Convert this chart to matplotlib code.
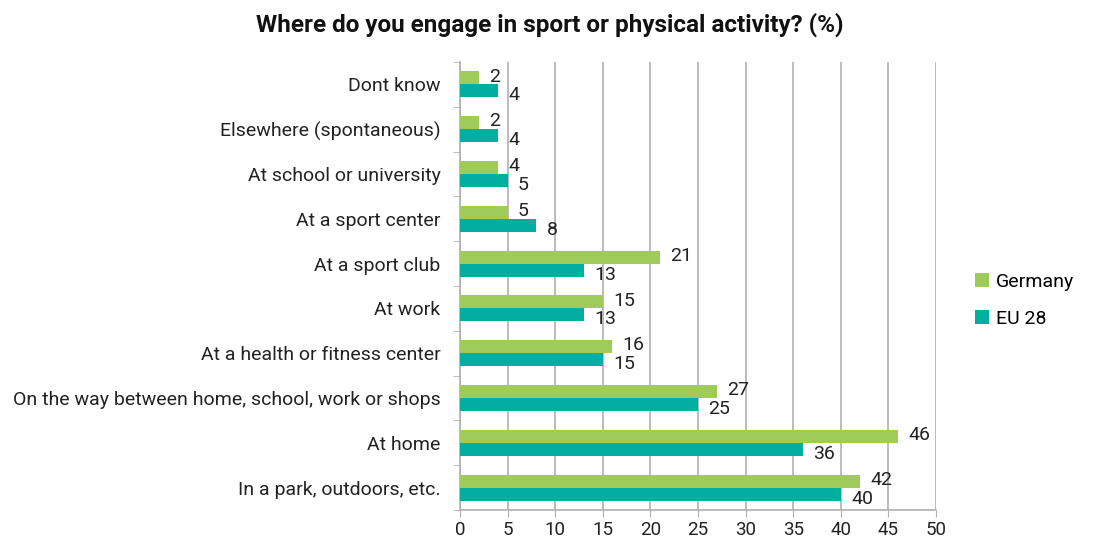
import numpy as np
import matplotlib.pyplot as plt

plt.rcParams['font.family'] = ['Roboto', 'DejaVu Sans']

categories = ["Dont know", "Elsewhere (spontaneous)", "At school or university",
              "At a sport center", "At a sport club", "At work",
              "At a health or fitness center",
              "On the way between home, school, work or shops",
              "At home", "In a park, outdoors, etc."]
germany = [2, 2, 4, 5, 21, 15, 16, 27, 46, 42]
eu28 = [4, 4, 5, 8, 13, 13, 15, 25, 36, 40]

green = '#9FCB59'
teal = '#00AFA0'
grey = '#B0B0B0'

fig = plt.figure(figsize=(10.96, 5.43), dpi=100)
ax = fig.add_axes([0.4197, 0.0608, 0.4343, 0.8250])

y = np.arange(len(categories))
h = 0.29
ax.barh(y - h / 2, germany, height=h, color=green, label='Germany', zorder=3)
ax.barh(y + h / 2, eu28, height=h, color=teal, label='EU 28', zorder=3)

for yi, g, e in zip(y, germany, eu28):
    ax.text(g + 1.1, yi - h * 0.6, str(g), fontsize=14, va='center', ha='left', color='#222222')
    ax.text(e + 1.1, yi + h * 0.85, str(e), fontsize=14, va='center', ha='left', color='#222222')

ax.set_ylim(len(categories) - 0.5, -0.5)
ax.set_xlim(0, 50)
ax.set_xticks(np.arange(0, 51, 5))
ax.set_yticks(y)
ax.set_yticklabels(categories, fontsize=14, color='#222222')
ax.tick_params(axis='y', length=0, pad=14)
ax.set_yticks(np.arange(-0.5, len(categories), 1), minor=True)
ax.tick_params(axis='y', which='minor', length=5, color=grey)
ax.tick_params(axis='x', length=5, color=grey, labelsize=13.5, labelcolor='#222222', pad=3)

ax.grid(axis='x', color=grey, linewidth=1.2, zorder=0)
for s in ['top', 'right']:
    ax.spines[s].set_visible(False)
for s in ['left', 'bottom']:
    ax.spines[s].set_color(grey)
    ax.spines[s].set_linewidth(1.2)

fig.text(0.502, 0.955, 'Where do you engage in sport or physical activity? (%)',
         ha='center', va='center', fontsize=17.5, fontweight='bold', color='#111111')

fig.legend(loc='center left', bbox_to_anchor=(0.874, 0.447), frameon=False,
           fontsize=14, handlelength=0.7, handleheight=0.7, labelspacing=0.95,
           handletextpad=0.35)

fig.savefig('out.png', dpi=100)
